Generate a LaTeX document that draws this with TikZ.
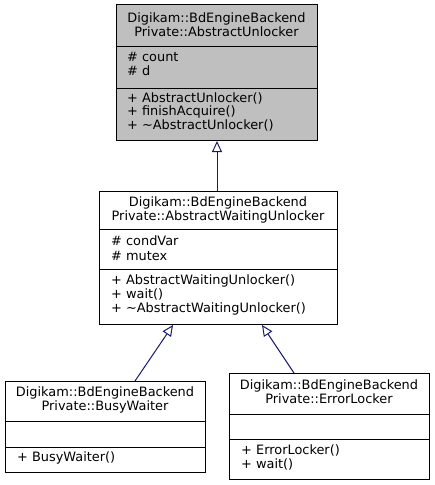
\documentclass[tikz,border=0pt]{standalone}
\usepackage{fontspec}
\setmainfont{DejaVu Sans}
\usetikzlibrary{arrows.meta,calc}
\definecolor{boxgray}{RGB}{191,191,191}
\definecolor{edgeblue}{RGB}{25,25,112}
\begin{document}
\begin{tikzpicture}[x=1pt,y=-1pt,
  cls/.style={draw=black,line width=1pt,anchor=north west,inner sep=0pt},
  sep/.style={draw=black,line width=1pt},
  tl/.style={anchor=base,inner sep=0pt,font=\fontsize{12.9}{14}\selectfont},
  ml/.style={anchor=base west,inner sep=0pt,font=\fontsize{12.9}{14}\selectfont},
  inh/.style={draw=edgeblue,line width=1pt,-{Triangle[open,length=11pt,width=10pt,fill=white]}}]
\useasboundingbox (0,0) rectangle (435,485);
% box 1
\node[cls,fill=boxgray,minimum width=201pt,minimum height=136pt] (b1) at (116,4) {};
\draw[sep] (b1.west |- 0,46) -- (b1.east |- 0,46);
\draw[sep] (b1.west |- 0,88) -- (b1.east |- 0,88);
\node[tl] (b1t1) at (216.5,22.5) {Digikam::BdEngineBackend};
\node[tl] (b1t2) at (216.5,36.5) {Private::AbstractUnlocker};
\node[ml] (b1a1) at (127,61.5) {\# count};
\node[ml] (b1a2) at (127,75.5) {\# d};
\node[ml] (b1m1) at (127,102) {+ AbstractUnlocker()};
\node[ml] (b1m2) at (127,115.5) {+ finishAcquire()};
\node[ml] (b1m3) at (127,129) {+ \textasciitilde AbstractUnlocker()};
% box 2
\node[cls,fill=white,minimum width=238pt,minimum height=133pt] (b2) at (99,191) {};
\draw[sep] (b2.west |- 0,229) -- (b2.east |- 0,229);
\draw[sep] (b2.west |- 0,269) -- (b2.east |- 0,269);
\node[tl] (b2t1) at (218,206.5) {Digikam::BdEngineBackend};
\node[tl] (b2t2) at (218,220.5) {Private::AbstractWaitingUnlocker};
\node[ml] (b2a1) at (111,245.5) {\# condVar};
\node[ml] (b2a2) at (111,260) {\# mutex};
\node[ml] (b2m1) at (111,284.5) {+ AbstractWaitingUnlocker()};
\node[ml] (b2m2) at (111,298.5) {+ wait()};
\node[ml] (b2m3) at (111,312.5) {+ \textasciitilde AbstractWaitingUnlocker()};
% box 3
\node[cls,fill=white,minimum width=200pt,minimum height=91pt] (b3) at (5,381) {};
\draw[sep] (b3.west |- 0,421) -- (b3.east |- 0,421);
\draw[sep] (b3.west |- 0,447) -- (b3.east |- 0,447);
\node[tl] (b3t1) at (105,396.5) {Digikam::BdEngineBackend};
\node[tl] (b3t2) at (105,410.5) {Private::BusyWaiter};
\node[ml] (b3m1) at (17,461.5) {+ BusyWaiter()};
% box 4
\node[cls,fill=white,minimum width=200pt,minimum height=106pt] (b4) at (229,373) {};
\draw[sep] (b4.west |- 0,414) -- (b4.east |- 0,414);
\draw[sep] (b4.west |- 0,439) -- (b4.east |- 0,439);
\node[tl] (b4t1) at (329,389) {Digikam::BdEngineBackend};
\node[tl] (b4t2) at (329,403) {Private::ErrorLocker};
\node[ml] (b4m1) at (241,454) {+ ErrorLocker()};
\node[ml] (b4m2) at (241,468) {+ wait()};
% edges
\draw[inh] (b2.north -| b1.south) -- (b1.south);
\coordinate (e3s) at ($(b3.north west)+(130,0)$);
\coordinate (e3t) at ($(b2.south west)+(74,0)$);
\draw[inh] (e3s) -- (e3t);
\coordinate (e4s) at ($(b4.north west)+(65,0)$);
\coordinate (e4t) at ($(b2.south west)+(163,0)$);
\draw[inh] (e4s) -- (e4t);
\end{tikzpicture}
\end{document}
